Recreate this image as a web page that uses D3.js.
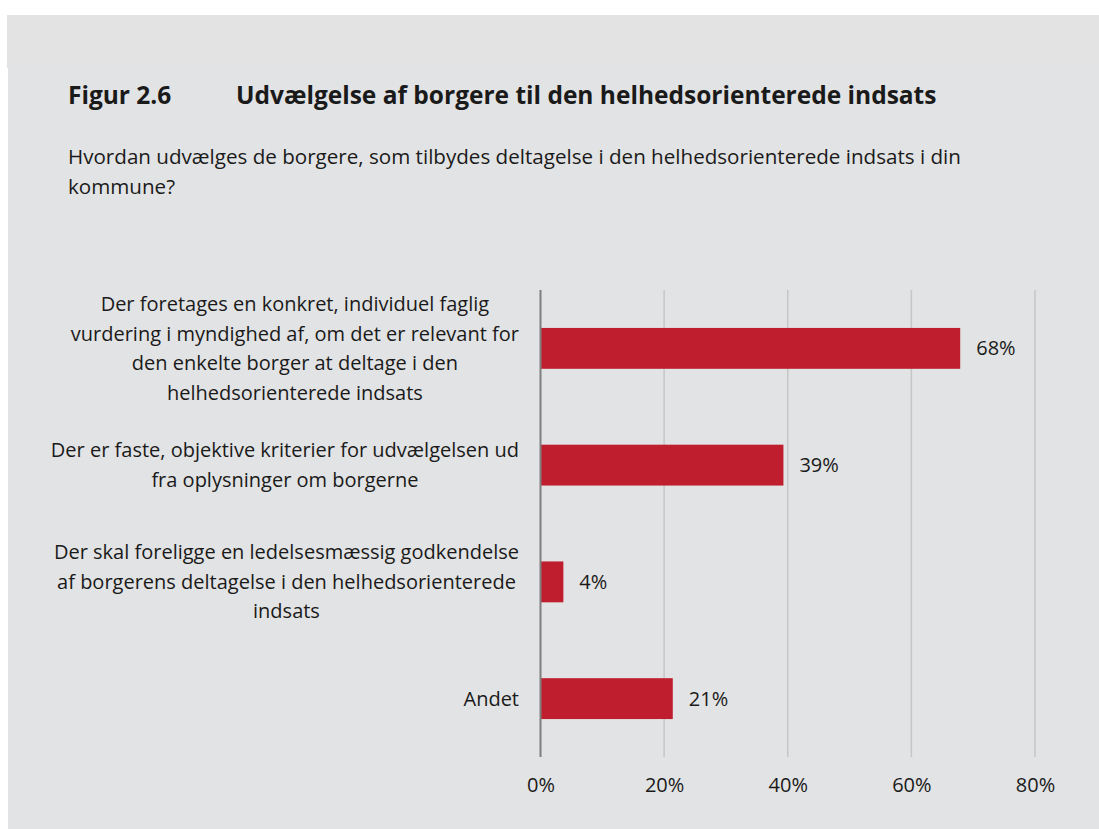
<!DOCTYPE html>
<html>
<head>
<meta charset="utf-8">
<script src="https://cdn.jsdelivr.net/npm/d3@7"></script>
<style>
  html, body { margin: 0; background: #ffffff; overflow: hidden; }
  svg { display: block; }
  svg text { font-family: "Open Sans", "Noto Sans", sans-serif; }
</style>
</head>
<body>
<div id="chart"></div>
<script>
// chart data
var categories = [
  ["Der foretages en konkret, individuel faglig", "vurdering i myndighed af, om det er relevant for", "den enkelte borger at deltage i den", "helhedsorienterede indsats"],
  ["Der er faste, objektive kriterier for udvælgelsen ud", "fra oplysninger om borgerne"],
  ["Der skal foreligge en ledelsesmæssig godkendelse", "af borgerens deltagelse i den helhedsorienterede", "indsats"],
  ["Andet"]
];
var values = [67.9, 39.3, 3.7, 21.4];
var valueLabels = ["68%", "39%", "4%", "21%"];
var xTicks = [0, 20, 40, 60, 80];

var W = 1099, H = 829;
var fs = "20px";

var svg = d3.select("#chart")
  .append("svg")
  .attr("width", W)
  .attr("height", H);

// grey panel
svg.append("rect")
  .attr("x", 7).attr("y", 15)
  .attr("width", W - 7).attr("height", 53)
  .attr("fill", "#e3e3e3");
svg.append("rect")
  .attr("x", 8).attr("y", 68)
  .attr("width", W - 8).attr("height", H - 68)
  .attr("fill", "#e2e3e4");

// title + question
svg.append("text")
  .attr("x", 68).attr("y", 104)
  .attr("font-size", "24.5px").attr("font-weight", "bold")
  .attr("fill", "#1a1a1a")
  .text("Figur 2.6");
svg.append("text")
  .attr("x", 236).attr("y", 104)
  .attr("font-size", "24.5px").attr("font-weight", "bold")
  .attr("fill", "#1a1a1a")
  .text("Udvælgelse af borgere til den helhedsorienterede indsats");

var question = ["Hvordan udvælges de borgere, som tilbydes deltagelse i den helhedsorienterede indsats i din", "kommune?"];
svg.append("g").selectAll("text")
  .data(question)
  .enter().append("text")
  .attr("x", 68)
  .attr("y", function(d, i) { return 164 + i * 30; })
  .attr("font-size", "20.6px")
  .attr("fill", "#1a1a1a")
  .text(function(d) { return d; });

// scales
var x = d3.scaleLinear()
  .domain([0, 80])
  .range([540.5, 1035]);

var y = d3.scaleBand()
  .domain(d3.range(categories.length))
  .range([290, 757])
  .paddingInner(0.65)
  .paddingOuter(0.325);

// gridlines
svg.append("g").selectAll("line")
  .data(xTicks.slice(1))
  .enter().append("line")
  .attr("x1", function(d) { return x(d); })
  .attr("x2", function(d) { return x(d); })
  .attr("y1", 290).attr("y2", 757)
  .attr("stroke", "#c6c6c6")
  .attr("stroke-width", 1.5);

// bottom axis labels
var xAxis = svg.append("g")
  .attr("transform", "translate(0,757)")
  .call(d3.axisBottom(x).tickValues(xTicks).tickSize(0).tickPadding(21)
    .tickFormat(function(d) { return d + "%"; }));
xAxis.select(".domain").remove();
xAxis.selectAll("text")
  .attr("font-size", fs)
  .attr("fill", "#1a1a1a")
  .style("font-family", "\"Open Sans\", sans-serif");

// bars
svg.append("g").selectAll("rect")
  .data(values)
  .enter().append("rect")
  .attr("x", x(0))
  .attr("y", function(d, i) { return y(i); })
  .attr("width", function(d) { return x(d) - x(0); })
  .attr("height", y.bandwidth())
  .attr("fill", "#be1e2d");

// value labels
svg.append("g").selectAll("text")
  .data(values)
  .enter().append("text")
  .attr("x", function(d) { return x(d) + 16; })
  .attr("y", function(d, i) { return y(i) + y.bandwidth() / 2; })
  .attr("dy", "0.35em")
  .attr("font-size", fs)
  .attr("fill", "#1a1a1a")
  .text(function(d, i) { return valueLabels[i]; });

// zero axis line
svg.append("line")
  .attr("x1", x(0)).attr("x2", x(0))
  .attr("y1", 290).attr("y2", 757)
  .attr("stroke", "#7f7f7f")
  .attr("stroke-width", 2);

// category labels, block right-aligned to axis, lines centred in block
var lineH = 29.5;
var labelRight = 519;
categories.forEach(function(lines, i) {
  var g = svg.append("g");
  var texts = g.selectAll("text")
    .data(lines)
    .enter().append("text")
    .attr("font-size", fs)
    .attr("fill", "#1a1a1a")
    .attr("text-anchor", "middle")
    .text(function(d) { return d; });
  var maxW = 0;
  texts.each(function() { maxW = Math.max(maxW, this.getComputedTextLength()); });
  var cy = y(i) + y.bandwidth() / 2;
  var top = cy - (lines.length - 1) * lineH / 2;
  texts
    .attr("x", labelRight - maxW / 2)
    .attr("y", function(d, j) { return top + j * lineH; })
    .attr("dy", "0.35em");
});
</script>
</body>
</html>
